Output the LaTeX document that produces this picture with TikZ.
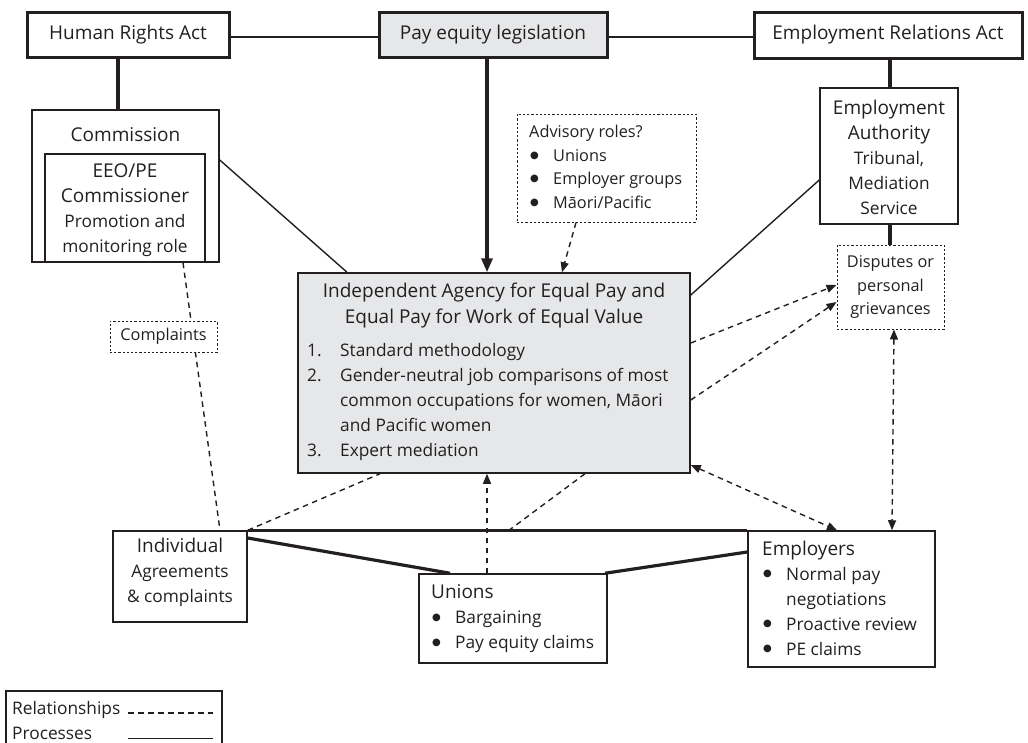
\documentclass[tikz,border=0pt]{standalone}
\usepackage{fontspec}
\setmainfont{Open Sans}
\newfontfamily\dvsans{DejaVu Sans}
\usetikzlibrary{arrows.meta}
\definecolor{ink}{HTML}{231F20}
\definecolor{agfill}{HTML}{E6E7E8}
\newcommand{\hdf}{\fontsize{19}{26}\selectfont}
\newcommand{\bdf}{\fontsize{17.3}{25}\selectfont}
\newcommand{\smf}{\fontsize{16.3}{23.5}\selectfont}
\newcommand{\bul}{\makebox[24pt][l]{\hspace{1pt}\raisebox{3.2pt}{\dvsans\fontsize{10}{10}\selectfont ●}}}
\begin{document}
\begin{tikzpicture}[x=1pt,y=-1pt,
  every node/.style={text=ink, inner sep=0pt},
  thickbox/.style={draw=ink, line width=3pt},
  thinbox/.style={draw=ink, line width=1.5pt},
  dotbox/.style={draw=ink, line width=1pt, dash pattern=on 2.2pt off 2pt},
  proc/.style={draw=ink, line width=1.4pt},
  procthick/.style={draw=ink, line width=3.2pt},
  rel/.style={draw=ink, line width=1.4pt, dash pattern=on 5.5pt off 4.5pt},
  bigtip/.tip={Triangle[length=14pt,width=11pt]},
  smtip/.tip={Triangle[length=10pt,width=8pt]}]
\useasboundingbox (0,0) rectangle (1028,742);

% top row
\node[thickbox, minimum width=202pt, minimum height=45pt] (hra) at (128,34.5) {\hdf Human Rights Act};
\node[thickbox, fill=agfill, minimum width=228pt, minimum height=45pt] (pel) at (493,34.5) {\hdf Pay equity legislation};
\node[thickbox, minimum width=268pt, minimum height=46pt] (era) at (888,35) {\hdf Employment Relations Act};

% commission
\node[thinbox, minimum width=187pt, minimum height=152pt] (comm) at (125.5,186) {};
\node[thinbox, minimum width=160pt, minimum height=108pt] (eeo) at (125,208) {};
\node (commlbl) at (125.5,135) {\hdf Commission};
\node[align=center, font=\bdf] (eeotxt) at (125,210) {{\hdf EEO/PE}\\{\hdf Commissioner}\\Promotion and\\monitoring role};

% agency
\node[thinbox, fill=agfill, minimum width=392pt, minimum height=200pt] (agency) at (494,373) {};
\node[align=center, font=\hdf] (agtitle) at (494,305.5) {Independent Agency for Equal Pay and\\Equal Pay for Work of Equal Value};
\node[align=left, font=\bdf, anchor=west] (aglist) at (307,402) {\makebox[33pt][l]{1.}Standard methodology\\
\makebox[33pt][l]{2.}Gender-neutral job comparisons of most\\
\hspace*{33pt}common occupations for women, Māori\\
\hspace*{33pt}and Pacific women\\
\makebox[33pt][l]{3.}Expert mediation};

% advisory
\node[dotbox, minimum width=179pt, minimum height=108pt] (adv) at (606.5,168) {};
\node[align=left, font=\smf, anchor=west] (advtxt) at (529,167) {Advisory roles?\\\bul Unions\\\bul Employer groups\\\bul Māori/Pacific};

% employment authority
\node[thinbox, minimum width=138pt, minimum height=136pt] (ea) at (889,156) {};
\node[align=center, font=\bdf] (eatxt) at (889,157) {{\hdf Employment}\\{\hdf Authority}\\Tribunal,\\Mediation\\Service};

% disputes
\node[dotbox, minimum width=107pt, minimum height=84pt, align=center, font=\smf] (disp) at (890.5,287) {Disputes or\\personal\\grievances};

% individual
\node[thinbox, minimum width=134pt, minimum height=91pt] (ind) at (180,576.5) {};
\node[align=center, font=\bdf] (indtxt) at (180,572) {{\hdf Individual}\\Agreements\\\& complaints};

% unions
\node[thinbox, minimum width=188pt, minimum height=89pt] (uni) at (513,618.5) {};
\node[align=left, font=\bdf, anchor=west] (unitxt) at (431,619) {{\hdf Unions}\\\bul Bargaining\\\bul Pay equity claims};

% employers
\node[thinbox, minimum width=187pt, minimum height=136pt] (emp) at (841.5,599) {};
\node[align=left, font=\bdf, anchor=west] (emptxt) at (762,598) {{\hdf Employers}\\\bul Normal pay\\\hspace*{24pt}negotiations\\\bul Proactive review\\\bul PE claims};

\coordinate (j1) at (508,531);

% connectors: processes
\draw[proc] (hra.east |- 0,37) -- (pel.west |- 0,37);
\draw[proc] (pel.east |- 0,37) -- (era.west |- 0,37);
\draw[procthick] (hra.south -| 118,0) -- (comm.north -| 118,0);
\draw[procthick, -bigtip] (pel.south -| 487,0) -- (agency.north -| 487,0);
\draw[procthick] (era.south -| 890,0) -- (ea.north -| 890,0);
\draw[procthick] (ea.south -| 890,0) -- (disp.north -| 890,0);
\draw[proc] (comm.east |- 0,160) -- (agency.north -| 347,0);
\draw[proc] (ea.west |- 0,180) -- (agency.east |- 0,295);
\draw[procthick] (ind.north east) -- (emp.north west);
\draw[procthick] (ind.east |- 0,538) -- (uni.north -| 450,0);
\draw[procthick] (uni.north -| 605,0) -- (emp.west |- 0,552);

% connectors: relationships
\draw[rel, -smtip] (adv.south -| 576,0) -- (agency.north -| 562,0);
\draw[rel, -smtip] (agency.east |- 0,343) -- (disp.west |- 0,285);
\draw[rel, -smtip] (agency.east |- 0,400) -- (disp.west |- 0,302);
\draw[rel, smtip-smtip] (disp.south -| 894,0) -- (emp.north -| 892,0);
\draw[rel, smtip-smtip] (agency.east |- 0,465) -- (emp.north -| 837,0);
\draw[rel] (eeo.south -| 183,0) -- (ind.north -| 220,0);
\draw[rel] (ind.north east) -- (agency.south -| 380,0);
\draw[rel] (agency.south -| 585,0) -- (j1);
\draw[rel, -smtip] (uni.north -| 487,0) -- (agency.south -| 487,0);

% complaints (covers the dashed line)
\node[dotbox, fill=white, minimum width=107pt, minimum height=31pt, font=\smf] (comp) at (163.5,336.5) {Complaints};

% legend
\node[thinbox, minimum width=216pt, minimum height=69pt] (legend) at (114,725.5) {};
\node[align=left, font=\bdf, anchor=west] (legtxt) at (12,720.5) {Relationships\\Processes};
\coordinate (ld1) at (128,713);
\coordinate (ld2) at (213,713);
\coordinate (lp1) at (128,738.5);
\coordinate (lp2) at (213,738.5);
\draw[draw=ink, line width=1.2pt, dash pattern=on 6pt off 4pt] (ld1) -- (ld2);
\draw[proc] (lp1) -- (lp2);
\end{tikzpicture}
\end{document}
